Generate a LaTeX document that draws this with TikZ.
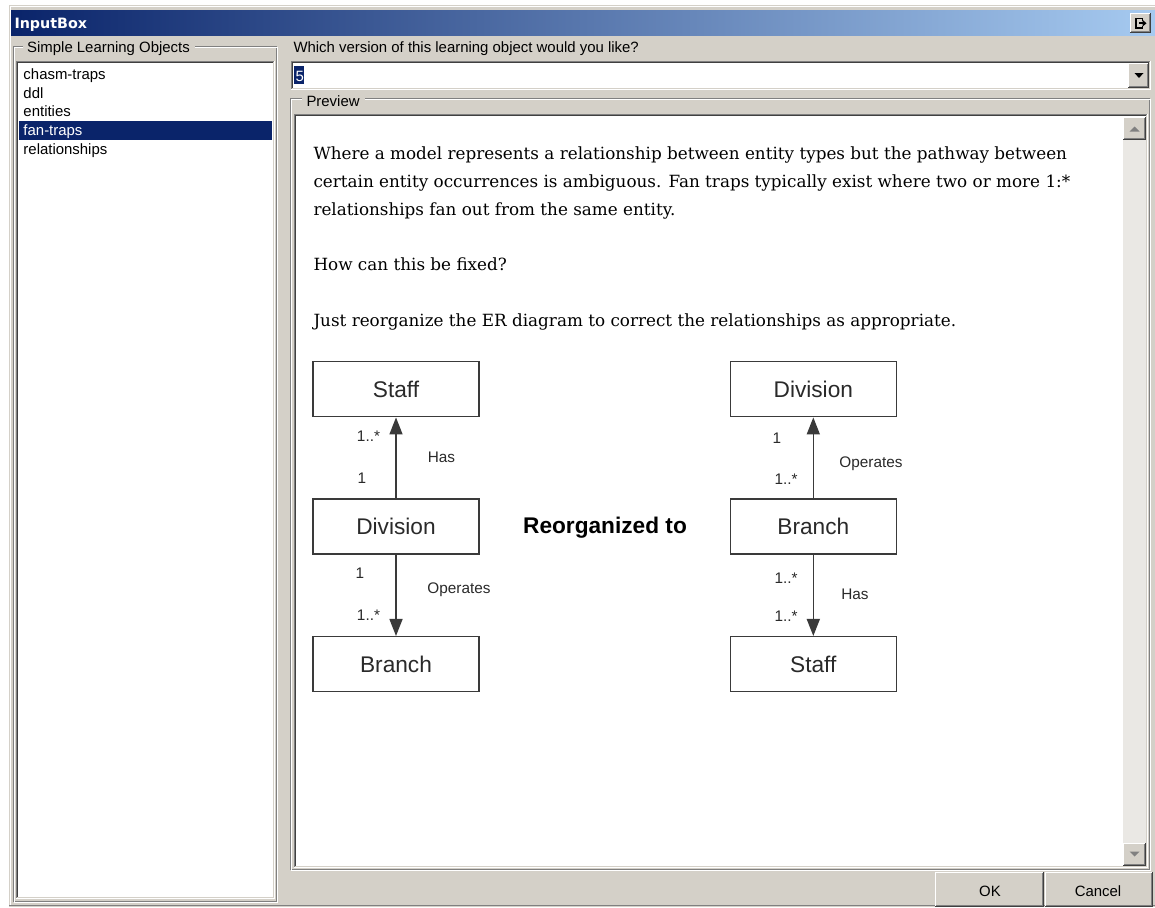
\documentclass[tikz,border=0pt]{standalone}
\usepackage{fontspec}
\setmainfont{Liberation Sans}
\newfontfamily\uifont{Liberation Sans}
\newfontfamily\titlefont{DejaVu Sans}
\newfontfamily\docfont{DejaVu Serif}
\newfontfamily\diafont{Liberation Sans}
\usetikzlibrary{arrows.meta}

\definecolor{face}{HTML}{D4D0C8}
\definecolor{shadow}{HTML}{808080}
\definecolor{dkshadow}{HTML}{404040}
\definecolor{navy}{HTML}{0A246A}
\definecolor{caplight}{HTML}{A6CAF0}
\definecolor{track}{HTML}{EAE8E4}
\definecolor{erline}{HTML}{3A3A3A}
\definecolor{ertext}{HTML}{2A2A2A}

% 3D frames in the classic Windows style; arguments are x1,y1,x2,y2 (outer edges)
\newcommand\sunkenframe[4]{%
  \draw[shadow]   (#1+0.5,#4-1) -- (#1+0.5,#2+0.5) -- (#3-1,#2+0.5);
  \draw[dkshadow] (#1+1.5,#4-2) -- (#1+1.5,#2+1.5) -- (#3-2,#2+1.5);
  \draw[white]    (#1,#4-0.5) -- (#3-0.5,#4-0.5) -- (#3-0.5,#2);
  \draw[face]     (#1+1,#4-1.5) -- (#3-1.5,#4-1.5) -- (#3-1.5,#2+1);
}
\newcommand\raisedframe[4]{%
  \fill[face] (#1,#2) rectangle (#3,#4);
  \draw[white]    (#1+0.5,#4-1) -- (#1+0.5,#2+0.5) -- (#3-1,#2+0.5);
  \draw[dkshadow] (#1,#4-0.5) -- (#3-0.5,#4-0.5) -- (#3-0.5,#2);
  \draw[shadow]   (#1+1,#4-1.5) -- (#3-1.5,#4-1.5) -- (#3-1.5,#2+1);
}
\newcommand\etchedframe[4]{%
  \draw[shadow] (#1+0.5,#2+0.5) rectangle (#3-1.5,#4-1.5);
  \draw[white]  (#1+1.5,#2+1.5) rectangle (#3-0.5,#4-0.5);
}

\begin{document}
\begin{tikzpicture}[x=0.75pt,y=-0.75pt,line width=0.75pt,
  uitext/.style={font=\uifont\fontsize{11.2}{13}\selectfont, inner sep=0pt, anchor=base west},
  grouplabel/.style={uitext, fill=face, inner xsep=3.5pt, inner ysep=0pt},
  btntext/.style={font=\uifont\fontsize{11.2}{13}\selectfont, inner sep=0pt},
  doctext/.style={font=\docfont\fontsize{12.6}{15}\selectfont, inner sep=0pt, anchor=base west, text=black},
  erbox/.style={draw=erline, line width=1.1pt, fill=white, minimum width=124.5pt,
    minimum height=41.25pt, inner sep=0pt, font=\diafont\fontsize{17}{20}\selectfont, text=ertext},
  rel/.style={draw=erline, line width=1.1pt, -{Triangle[length=12.75pt,width=9.75pt]}},
  mult/.style={font=\diafont\fontsize{11.5}{13}\selectfont, text=ertext, inner sep=0pt,
    text height=8.2pt, text depth=0pt},
]
\useasboundingbox (0,0) rectangle (1155,907);
\fill[white] (0,0) rectangle (1155,907);

% window body and caption
\fill[face] (9,5) rectangle (1155,907);
\draw[white] (10.5,906) -- (10.5,6.5) -- (1155,6.5);
\draw[shadow] (9,905.5) -- (1155,905.5);
\shade[left color=navy, right color=caplight] (11,10) rectangle (1155,35);
\node[font=\titlefont\bfseries\fontsize{10.7}{12}\selectfont, text=white, anchor=base west, inner sep=0pt]
  (title) at (14,28.3) {InputBox};
\raisedframe{1130}{13}{1151}{33}
\draw[black, line width=1.3pt] (1136,18.5) rectangle (1142.5,28);
\fill[face] (1141.5,21) rectangle (1143.5,25.5);
\fill[black] (1139,22.3) rectangle (1143,24.2);
\fill[black] (1142.5,19.8) -- (1146.5,23.25) -- (1142.5,26.7) -- cycle;

% left group: list of learning objects
\etchedframe{13}{46}{278}{903}
\node[grouplabel] (grpobj) at (22,52.7) {Simple Learning Objects};
\fill[white] (16,61) rectangle (275,899);
\sunkenframe{16}{61}{275}{899}
\fill[navy] (19,120.5) rectangle (272,139.5);
\node[uitext] (it1) at (23,79.3) {chasm-traps};
\node[uitext] (it2) at (23,98.1) {ddl};
\node[uitext] (it3) at (23,116.9) {entities};
\node[uitext, text=white] (it4) at (23,135.7) {fan-traps};
\node[uitext] (it5) at (23,154.5) {relationships};

% version combo box
\node[uitext] (ask) at (293,52.7) {Which version of this learning object would you like?};
\fill[white] (291,61) rectangle (1151,90);
\sunkenframe{291}{61}{1151}{90}
\fill[navy] (294,66) rectangle (304,84);
\node[uitext, text=white] (ver) at (295,81.5) {5};
\raisedframe{1128}{63}{1149}{88}
\fill[black] (1134.5,73) -- (1143.5,73) -- (1139,78) -- cycle;

% preview group
\etchedframe{290}{98}{1151}{871}
\node[grouplabel, inner xsep=3.75pt] (grpprev) at (301,106.5) {Preview};
\fill[white] (294,114) rectangle (1148,868);
\sunkenframe{294}{114}{1148}{868}

% vertical scroll bar
\fill[track] (1123,140) rectangle (1146,843);
\raisedframe{1123}{117}{1146}{140}
\fill[shadow] (1129.5,131.5) -- (1139.5,131.5) -- (1134.5,126.5) -- cycle;
\raisedframe{1123}{843}{1146}{866}
\fill[shadow] (1129.5,851.5) -- (1139.5,851.5) -- (1134.5,856.5) -- cycle;

% dialog buttons
\raisedframe{935}{872}{1044}{907}
\node[btntext] (ok) at (990,891) {OK};
\raisedframe{1045}{872}{1153}{907}
\node[btntext] (cancel) at (1098,891) {Cancel};

% preview text
\node[doctext] (p1) at (313,159) {Where a model represents a relationship between entity types but the pathway between};
\node[doctext] (p2) at (313,187) {certain entity occurrences is ambiguous. Fan traps typically exist where two or more 1:*};
\node[doctext] (p3) at (313,215) {relationships fan out from the same entity.};
\node[doctext] (p4) at (313,270) {How can this be fixed?};
\node[doctext] (p5) at (313,326) {Just reorganize the ER diagram to correct the relationships as appropriate.};

% ER diagram, before
\node[erbox] (lstaff)  at (396,389.2) {Staff};
\node[erbox] (ldiv)    at (396,526.5) {Division};
\node[erbox] (lbranch) at (396,664.2) {Branch};
\draw[rel] (ldiv.north) -- (lstaff.south);
\draw[rel] (ldiv.south) -- (lbranch.north);
\node[mult] (la1) at (368.5,436) {1..*};
\node[mult] (la2) at (441.5,457) {Has};
\node[mult] (la3) at (362,478) {1};
\node[mult] (lb1) at (360,573) {1};
\node[mult] (lb2) at (459,588.5) {Operates};
\node[mult] (lb3) at (368.5,615.5) {1..*};

\node[font=\diafont\bfseries\fontsize{17}{20}\selectfont, text=black, inner sep=0pt] (reorg) at (605,527.5) {Reorganized to};

% ER diagram, after
\node[erbox] (rdiv)    at (813.3,389.2) {Division};
\node[erbox] (rbranch) at (813.3,526.5) {Branch};
\node[erbox] (rstaff)  at (813.3,664.2) {Staff};
\draw[rel] (rbranch.north) -- (rdiv.south);
\draw[rel] (rbranch.south) -- (rstaff.north);
\node[mult] (ra1) at (777,438) {1};
\node[mult] (ra2) at (871,462.5) {Operates};
\node[mult] (ra3) at (786,479) {1..*};
\node[mult] (rb1) at (786,578) {1..*};
\node[mult] (rb2) at (855,594.5) {Has};
\node[mult] (rb3) at (786,616) {1..*};
\end{tikzpicture}
\end{document}
